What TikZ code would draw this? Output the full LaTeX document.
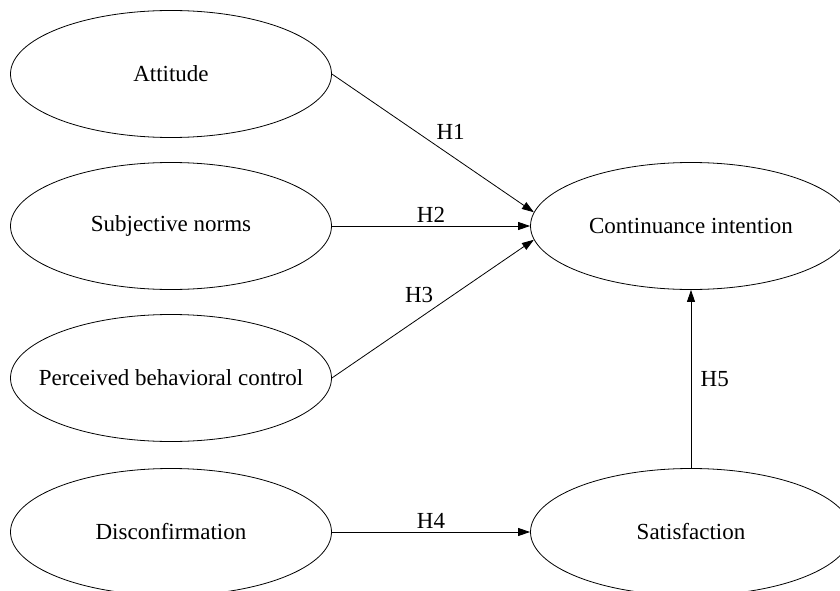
\documentclass[tikz,border=0pt]{standalone}
\usepackage{fontspec}
\setmainfont{Liberation Serif}
\usetikzlibrary{shapes.geometric, arrows.meta}

\begin{document}
\begin{tikzpicture}[x=1pt, y=1pt,
  every node/.style = {font=\fontsize{23}{27}\selectfont},
  construct/.style = {shape=ellipse, draw, line width=0.8pt,
    minimum width=321pt, minimum height=127pt, inner xsep=-25pt, inner ysep=0pt},
  path/.style = {line width=0.8pt, -{Triangle[length=12pt, width=8pt]}}]
  \useasboundingbox (0,0) rectangle (840,-591);
  \node[construct] (att) at (171,-74) {Attitude};
  \node[construct] (sn) at (171,-226) {Subjective norms};
  \node[construct] (pbc) at (171,-378) {Perceived behavioral control};
  \node[construct] (dis) at (171,-532) {Disconfirmation};
  \node[construct] (ci) at (691,-226) {Continuance intention};
  \node[construct] (sat) at (691,-532) {Satisfaction};
  \draw[path] (att.east) -- node[pos=0.5, above right] (h1) {H1} (ci.175);
  \draw[path] (sn.east) -- node[midway, above] (h2) {H2} (ci.west);
  \draw[path] (pbc.east) -- node[pos=0.52, above left] (h3) {H3} (ci.185);
  \draw[path] (dis.east) -- node[midway, above] (h4) {H4} (sat.west);
  \draw[path] (sat.north) -- node[midway, right=6pt] (h5) {H5} (ci.south);
\end{tikzpicture}
\end{document}
